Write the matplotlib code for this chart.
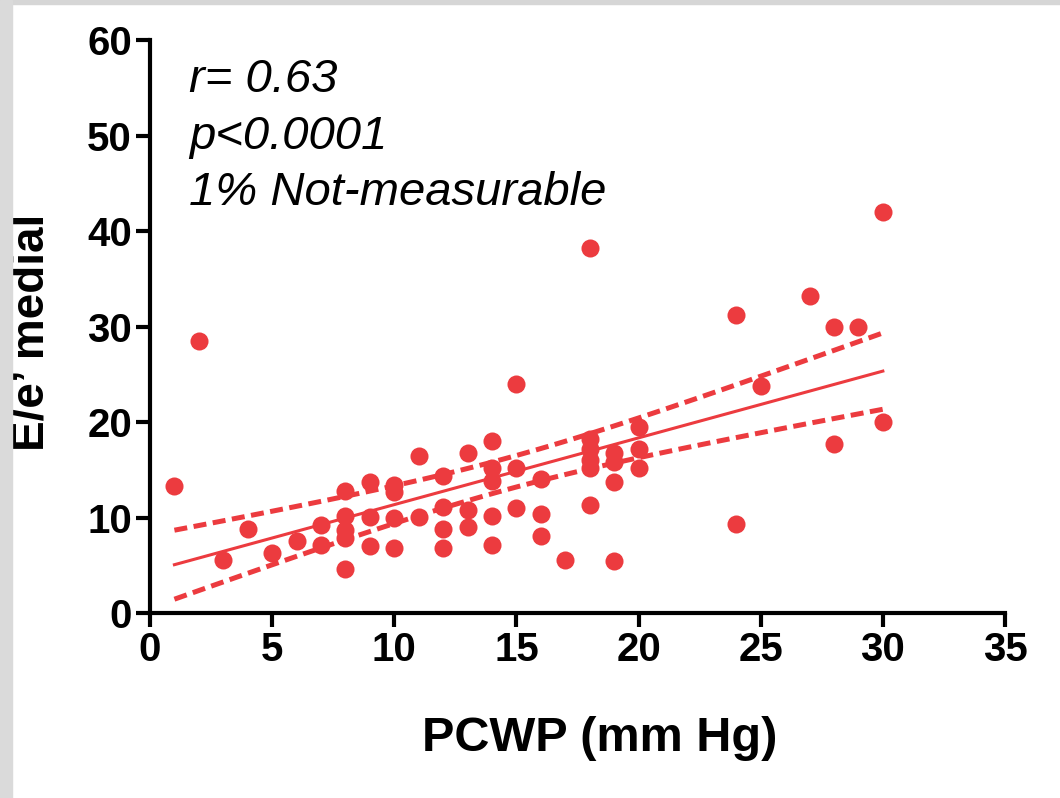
import numpy as np
import matplotlib
matplotlib.use("Agg")
import matplotlib.pyplot as plt
from matplotlib.patches import Rectangle

# Dane
pcwp = [1, 2, 3, 4, 5, 6, 7, 7, 8, 8, 8, 8, 8, 9, 9, 9, 10, 10, 10, 10,
        11, 11, 12, 12, 12, 12, 13, 13, 13, 14, 14, 14, 14, 14, 15, 15, 15,
        16, 16, 16, 17, 18, 18, 18, 18, 18, 18, 19, 19, 19, 19, 20, 20, 20,
        24, 24, 25, 27, 28, 28, 29, 30, 30]
ee_medial = [13.3, 28.5, 5.6, 8.8, 6.3, 7.5, 9.2, 7.1, 12.8, 10.2, 8.7, 7.9, 4.6,
             13.7, 10.1, 7.0, 13.4, 12.7, 10.0, 6.8, 16.4, 10.1, 14.3, 11.1, 8.8, 6.8,
             16.8, 10.8, 9.0, 18.0, 15.2, 13.8, 10.2, 7.1, 24.0, 15.2, 11.0,
             14.0, 10.4, 8.1, 5.6, 38.2, 18.2, 17.2, 16.0, 15.2, 11.3,
             16.8, 15.8, 13.7, 5.5, 19.5, 17.2, 15.2,
             31.2, 9.3, 23.8, 33.2, 30.0, 17.7, 30.0, 42.0, 20.0]
x_ticks = [0, 5, 10, 15, 20, 25, 30, 35]
y_ticks = [0, 10, 20, 30, 40, 50, 60]
stats_lines = ["r= 0.63", "p<0.0001", "1% Not-measurable"]

red = "#ec3b3f"

plt.rcParams["font.family"] = ["Liberation Sans", "DejaVu Sans"]

fig = plt.figure(figsize=(10.6, 7.98), dpi=100)
# szara ramka zrzutu ekranu (góra i lewa krawędź)
fig.patches.append(Rectangle((0, 0.995), 1, 0.005, transform=fig.transFigure,
                             color="#d6d6d6", zorder=0))
fig.patches.append(Rectangle((0, 0), 0.011, 1, transform=fig.transFigure,
                             color="#dadada", zorder=0))
ax = fig.add_axes([0.1415, 0.2318, 0.8066, 0.718])

x = np.array(pcwp, dtype=float)
y = np.array(ee_medial, dtype=float)

# Regresja liniowa i 95% przedział ufności
n = len(x)
slope, intercept = np.polyfit(x, y, 1)
xf = np.linspace(x.min(), x.max(), 100)
yf = intercept + slope * xf
resid = y - (intercept + slope * x)
s = np.sqrt(np.sum(resid ** 2) / (n - 2))
se = s * np.sqrt(1 / n + (xf - x.mean()) ** 2 / np.sum((x - x.mean()) ** 2))
t = 1.999
ax.plot(xf, yf, color=red, lw=2.2, zorder=2)
ax.plot(xf, yf + t * se, color=red, lw=3.6, ls=(0, (2.6, 1.3)), zorder=2)
ax.plot(xf, yf - t * se, color=red, lw=3.6, ls=(0, (2.6, 1.3)), zorder=2)

ax.plot(x, y, "o", color=red, ms=13, mec="none", zorder=3)

ax.set_xlim(0, 35)
ax.set_ylim(0, 60)
ax.set_xticks(x_ticks)
ax.set_yticks(y_ticks)
for sp in ["top", "right"]:
    ax.spines[sp].set_visible(False)
for sp in ["left", "bottom"]:
    ax.spines[sp].set_linewidth(3)
ax.tick_params(width=3, length=10, labelsize=29, pad=3)
for lab in ax.get_xticklabels() + ax.get_yticklabels():
    lab.set_fontweight("bold")

ax.set_xlabel("PCWP (mm Hg)", fontsize=35, fontweight="bold")
ax.set_ylabel("E/e\u2019 medial", fontsize=33, fontweight="bold")
ax.xaxis.set_label_coords(0.526, -0.18)
ax.yaxis.set_label_coords(-0.113, 0.49)

for i, line in enumerate(stats_lines):
    ax.text(1.6, 55.8 - i * 5.9, line, fontsize=34, style="italic",
            va="center", ha="left")

fig.savefig("out.png", dpi=100)
